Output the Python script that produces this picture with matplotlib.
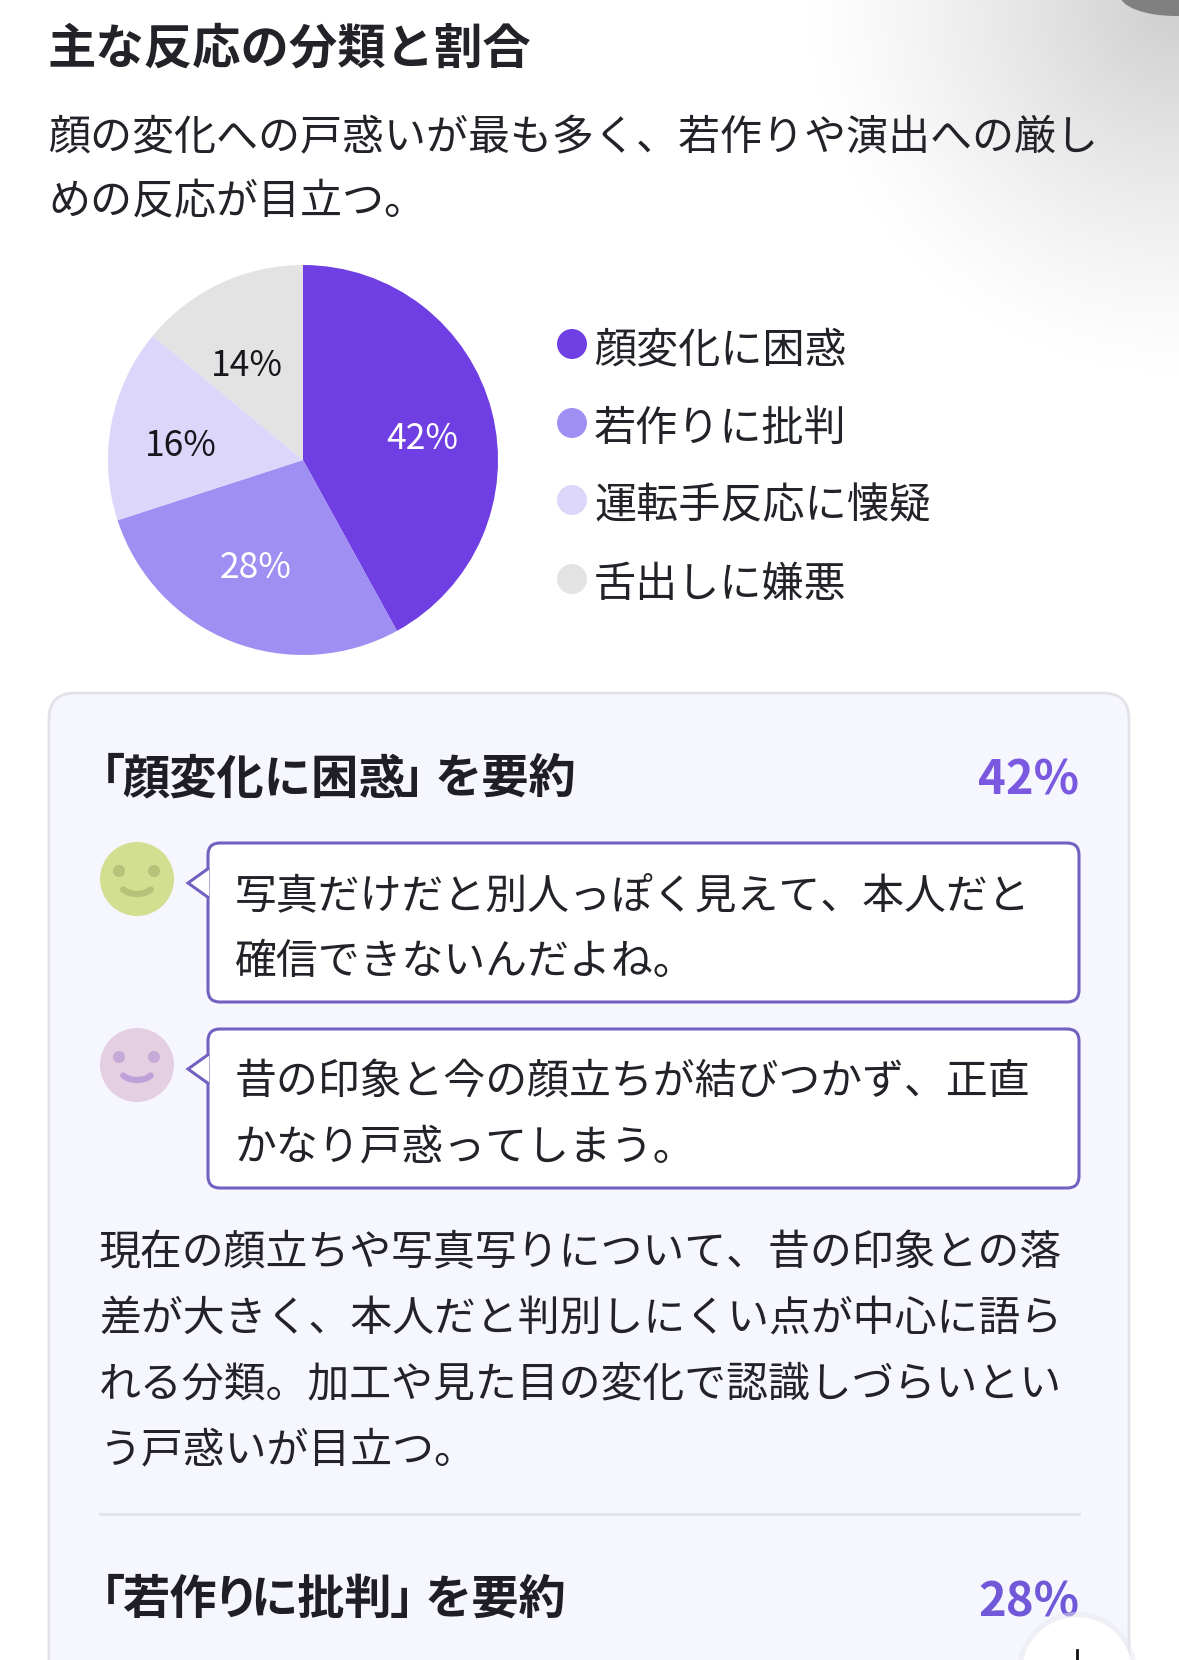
import numpy as np
import matplotlib
matplotlib.use('Agg')
import matplotlib.pyplot as plt
from matplotlib.patches import FancyBboxPatch, Circle, Polygon, Arc, Ellipse

plt.rcParams['font.family'] = ['Noto Sans CJK JP', 'DejaVu Sans']

title = '主な反応の分類と割合'
subtitle = ['顔の変化への戸惑いが最も多く、若作りや演出への厳し', 'めの反応が目立つ。']
categories = ['顔変化に困惑', '若作りに批判', '運転手反応に懐疑', '舌出しに嫌悪']
shares = [42, 28, 16, 14]
colors = ['#6f3fe3', '#a08ff3', '#dcd6fb', '#e3e3e3']
label_colors = ['white', 'white', '#16161c', '#16161c']
head1_parts = ['「', '顔変化に困惑', '」', 'を要約']
head2_parts = ['「', '若作', 'り', 'に批判', '」', 'を要約']
quote1 = ['写真だけだと別人っぽく見えて、本人だと', '確信できないんだよね。']
quote2 = ['昔の印象と今の顔立ちが結びつかず、正直', 'かなり戸惑ってしまう。']
body = ['現在の顔立ちや写真写りについて、昔の印象との落',
        '差が大きく、本人だと判別しにくい点が中心に語ら',
        'れる分類。加工や見た目の変化で認識しづらいとい',
        'う戸惑いが目立つ。']

W, H = 1179, 1660
INK = '#222228'
FS = 30.15
fig = plt.figure(figsize=(W / 100, H / 100), dpi=100, facecolor='white')
ax = fig.add_axes([0, 0, 1, 1])
ax.axis('off')

# soft radial grey in the top right corner of the background
yy, xx = np.mgrid[0:440:2, 740:1179:2]
g = np.clip(1 - np.hypot(xx - 1179, yy) / 390, 0, 1)
rgba = np.zeros(xx.shape + (4,))
rgba[..., :3] = 0.0
rgba[..., 3] = 0.2 * g ** 1.3
ax.imshow(rgba, extent=[740, 1179, 440, 0], aspect='auto', zorder=0, interpolation='bilinear')
ax.set_xlim(0, W)
ax.set_ylim(H, 0)
ax.add_patch(Ellipse((1176, -5), 112, 42, fc='#808080', ec='none', zorder=1))

ax.text(48, 49, title, fontsize=34.8, fontweight='bold', color=INK, va='center', ha='left')
for y, s in zip([138, 202], subtitle):
    ax.text(48, y, s, fontsize=30.25, color=INK, va='center', ha='left')

# legend
for y, c, s in zip([344, 423, 500, 579], colors, categories):
    ax.add_patch(Circle((572, y), 15, fc=c, ec='none', zorder=2))
    ax.text(594, y + 6, s, fontsize=30.3, color=INK, va='center', ha='left')

# card
ax.add_patch(FancyBboxPatch((49, 693), 1080, 1100, boxstyle='round,pad=0,rounding_size=26',
                            fc='#f6f6fe', ec='#e2e2e8', lw=2, zorder=1))


def heading(parts, xs, y):
    for s, x in zip(parts, xs):
        ax.text(x, y, s, fontsize=34, fontweight='bold', color='#1e1e24', va='center', ha='left', zorder=3)


heading(head1_parts, [78, 122, 400, 435], 779)
heading(head2_parts, [78, 122, 212, 250, 390, 425], 1600)
ax.text(1079, 780, f'{shares[0]}%', fontsize=34, fontweight='bold', color='#7a58e0', va='center', ha='right', zorder=3)


def bubble(top, bottom, tip_y, lines, line_ys):
    ax.add_patch(FancyBboxPatch((208, top), 871, bottom - top, boxstyle='round,pad=0,rounding_size=12',
                                fc='white', ec='#7460c0', lw=2.2, zorder=2))
    ax.add_patch(Polygon([(209, tip_y - 15), (188, tip_y), (209, tip_y + 15)], closed=False,
                         fc='white', ec='#7460c0', lw=2.2, zorder=3, joinstyle='miter'))
    for y, s in zip(line_ys, lines):
        ax.text(235, y, s, fontsize=FS, color=INK, va='center', ha='left', zorder=4)


def face(cx, cy, fc, eye, mouth):
    ax.add_patch(Circle((cx, cy), 37, fc=fc, ec='none', zorder=2))
    for dx in (-18, 17):
        ax.add_patch(Circle((cx + dx, cy - 8), 6, fc=eye, ec='none', zorder=3))
    ax.add_patch(Arc((cx, cy + 4), 34, 22, theta1=25, theta2=155, color=mouth, lw=4.5, zorder=3, capstyle='round'))


bubble(843, 1002, 883, quote1, [897, 962])
bubble(1029, 1188, 1069, quote2, [1082, 1148])
face(137, 879, '#d2de90', '#b4c27a', '#b4c27a')
face(137, 1065, '#e4cfe2', '#c8aad8', '#c0a0d8')

for y, s in zip([1254, 1319, 1385, 1451], body):
    ax.text(99, y, s, fontsize=FS, color=INK, va='center', ha='left', zorder=3)

ax.plot([100, 1079], [1514, 1514], color='#e2e2ee', lw=2, zorder=2)
ax.text(1079, 1602, f'{shares[1]}%', fontsize=34, fontweight='bold', color='#7058d8', va='center', ha='right', zorder=3)

# floating round button cut by the lower edge
ax.add_patch(Circle((1077, 1672), 60, fc='#e9e9f0', ec='none', alpha=0.5, zorder=4))
ax.add_patch(Circle((1077, 1672), 55, fc='white', ec='none', zorder=5))
ax.plot([1077, 1077], [1650, 1660], color='#111111', lw=2, zorder=6)

# pie
cx, cy, r = 303, 460, 195
pie_ax = fig.add_axes([(cx - r) / W, 1 - (cy + r) / H, 2 * r / W, 2 * r / H])
wedges, _ = pie_ax.pie(shares, colors=colors, startangle=90, counterclock=False, radius=1.0,
                       wedgeprops=dict(linewidth=0))
pie_ax.set_xlim(-1, 1)
pie_ax.set_ylim(-1, 1)
cum = np.cumsum([0] + shares[:-1])
radii = [0.63, 0.57, 0.64, 0.62]
nudge_x = [0, -0.033, 0, -0.022]
nudge_y = [-0.05, -0.023, -0.05, -0.077]
for s, c0, lc, rr, nx, ny in zip(shares, cum, label_colors, radii, nudge_x, nudge_y):
    ang = np.deg2rad(90 - (c0 + s / 2) * 3.6)
    pie_ax.text(rr * np.cos(ang) + nx, rr * np.sin(ang) + ny, f'{s}%', fontsize=25.5, color=lc,
                ha='center', va='center')

fig.savefig('out.png', dpi=100, facecolor='white')
